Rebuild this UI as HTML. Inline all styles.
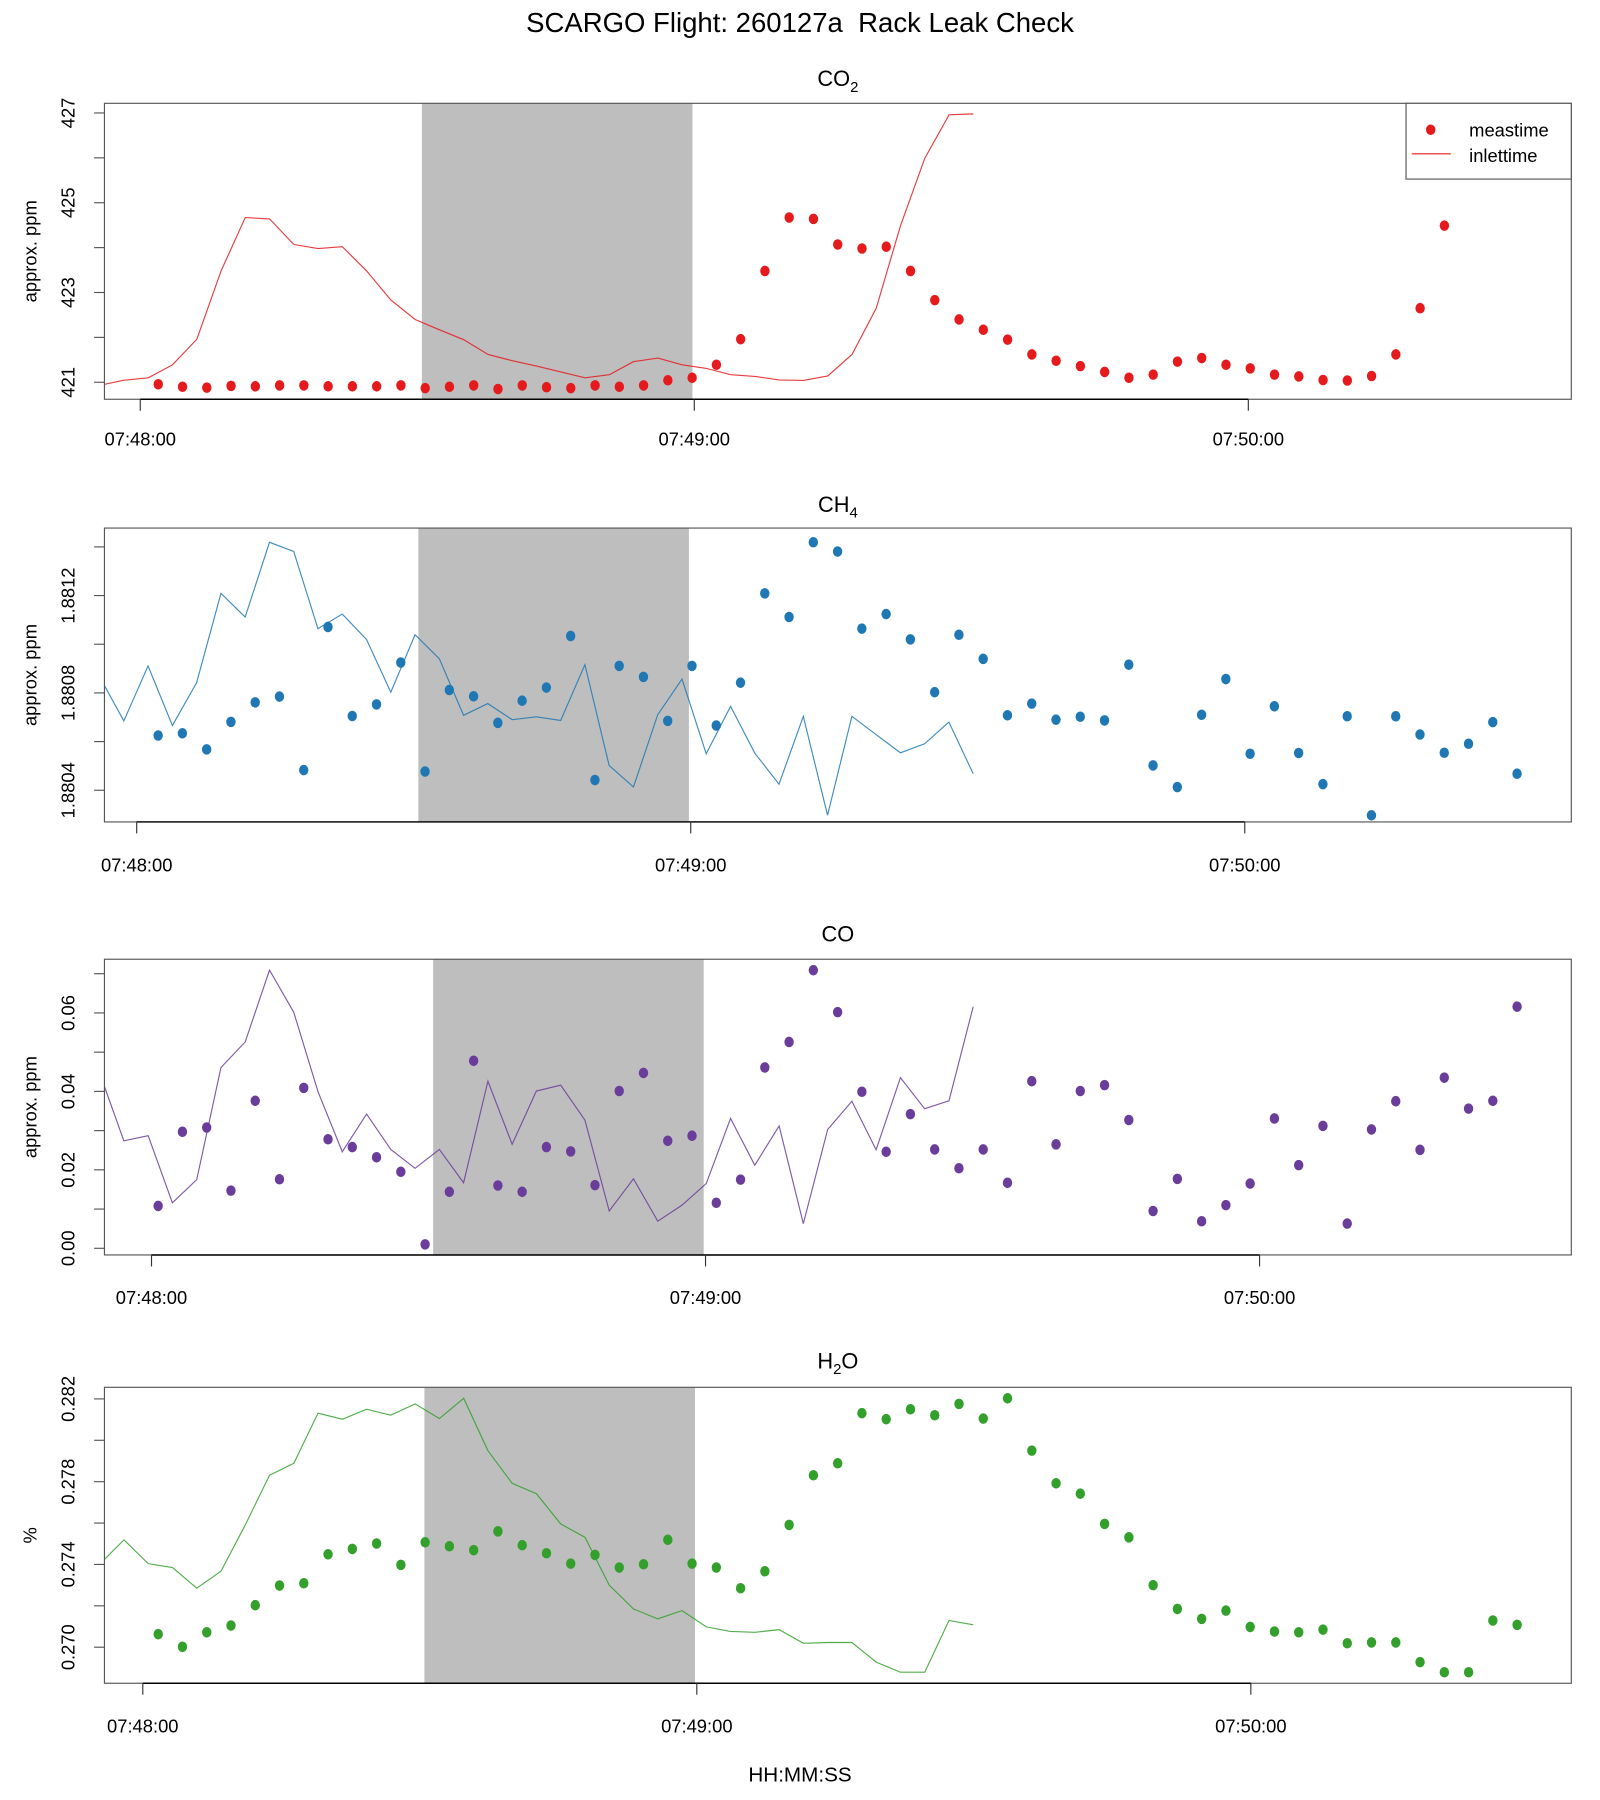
<!DOCTYPE html>
<html><head><meta charset="utf-8"><style>
html,body{margin:0;padding:0;background:#fff}
svg{display:block}
text{font-family:"Liberation Sans",Arial,sans-serif;fill:#000}
</style></head><body>
<svg id="chart" width="1600" height="1800" viewBox="0 0 1394 1568" preserveAspectRatio="none" xmlns="http://www.w3.org/2000/svg">
<text x="697" y="28" font-size="24" text-anchor="middle">SCARGO Flight: 260127a&#160; Rack Leak Check</text>
<text x="697" y="1552" font-size="18" text-anchor="middle">HH:MM:SS</text>
</svg>
<script>
// ---- data ----
const tickLabels = ["07:48:00", "07:49:00", "07:50:00"];
const tickSeconds = [0, 60, 120];
const sampleStep = 2.628;      // seconds between measurements
const inletLag = 58.9;         // inlettime = meastime - lag
const shadeStart = 30.5, shadeEnd = 59.8;

const co2Values = [420.955,420.90,420.88,420.92,420.91,420.93,420.93,420.91,420.91,420.91,420.93,420.87,420.90,420.93,420.85,420.93,420.89,420.87,420.93,420.90,420.93,421.045,421.10,421.39,421.96,423.48,424.67,424.64,424.07,423.98,424.02,423.48,422.83,422.40,422.17,421.95,421.62,421.48,421.36,421.23,421.10,421.17,421.46,421.54,421.39,421.31,421.17,421.13,421.05,421.04,421.14,421.62,422.65,424.49,425.99,426.96,426.98];
const ch4Values = [1.880625,1.880634,1.880568,1.880681,1.880761,1.880785,1.880483,1.881071,1.880705,1.880753,1.880925,1.880477,1.880812,1.880786,1.880677,1.880768,1.880822,1.881034,1.880442,1.880911,1.880866,1.880685,1.880911,1.880666,1.880842,1.881209,1.881112,1.881419,1.881381,1.881064,1.881124,1.88102,1.880803,1.881039,1.88094,1.880708,1.880756,1.88069,1.880702,1.880687,1.880916,1.880502,1.880413,1.88071,1.880857,1.88055,1.880745,1.880553,1.880425,1.880704,1.880297,1.880704,1.880629,1.880554,1.880591,1.88068,1.880468];
const coValues = [0.0108,0.0297,0.0308,0.0147,0.0376,0.0176,0.0409,0.0278,0.0258,0.0232,0.0195,0.0010,0.0144,0.0478,0.0160,0.0144,0.0258,0.0247,0.0161,0.0401,0.0447,0.0274,0.0287,0.0116,0.0175,0.0461,0.0526,0.0709,0.0602,0.0399,0.0246,0.0342,0.0252,0.0204,0.0252,0.0167,0.0426,0.0265,0.0401,0.0416,0.0327,0.0095,0.0177,0.0069,0.0110,0.0165,0.0331,0.0212,0.0312,0.0063,0.0303,0.0375,0.0251,0.0435,0.0356,0.0376,0.0616];
const h2oValues = [0.27063,0.27002,0.27072,0.27105,0.27203,0.27298,0.27309,0.27449,0.27475,0.27501,0.27398,0.27507,0.27488,0.27469,0.2756,0.27493,0.27454,0.27404,0.27446,0.27385,0.27401,0.27519,0.27404,0.27385,0.27285,0.27367,0.27591,0.27831,0.27889,0.28131,0.28102,0.2815,0.28121,0.28176,0.28105,0.28203,0.2795,0.27792,0.27742,0.27596,0.27531,0.273,0.27185,0.27137,0.27177,0.27098,0.27076,0.27072,0.27085,0.27019,0.27023,0.27023,0.26928,0.26879,0.26879,0.27129,0.27108];

const co2Ticks = [421,422,423,424,425,426,427];
const co2Labels = ["421","423","425","427"];
const ch4Ticks = [1.8804,1.8806,1.8808,1.8810,1.8812,1.8814];
const ch4Labels = ["1.8804","1.8808","1.8812"];
const coTicks = [0,0.01,0.02,0.03,0.04,0.05,0.06,0.07];
const coLabels = ["0.00","0.02","0.04","0.06"];
const h2oTicks = [0.270,0.272,0.274,0.276,0.278,0.280,0.282];
const h2oLabels = ["0.270","0.274","0.278","0.282"];

// ---- layout ----
const NS = "http://www.w3.org/2000/svg";
const svg = document.getElementById('chart');
const PX_PER_S = 8.045, LEFT = 91, RIGHT = 1369;
function mk(tag, attrs, parent) {
  const e = document.createElementNS(NS, tag);
  for (const k in attrs) e.setAttribute(k, attrs[k]);
  (parent || svg).appendChild(e);
  return e;
}
const panels = [
  {key:'co2', title:'CO', sub:'2', values:co2Values, ticks:co2Ticks, labels:co2Labels, color:'#e41a1c', ylab:'approx. ppm',
   top:90, bottom:347.8, vRef:421, yRef:333, vPerPx:(427-421)/(333-98.4), x0:122.2, t0:1.95, titleY:75, tickY:388, legend:true},
  {key:'ch4', title:'CH', sub:'4', values:ch4Values, ticks:ch4Ticks, labels:ch4Labels, color:'#1f78b4', ylab:'approx. ppm',
   top:460, bottom:716, vRef:1.8804, yRef:688.4, vPerPx:0.0001/21.2, x0:119.1, t0:2.32, titleY:446, tickY:759},
  {key:'co', title:'CO', sub:'', values:coValues, ticks:coTicks, labels:coLabels, color:'#6a3d9a', ylab:'approx. ppm',
   top:835.6, bottom:1093.2, vRef:0, yRef:1087.4, vPerPx:0.01/34.17, x0:132, t0:0.72, titleY:820, tickY:1136},
  {key:'h2o', title:'H', sub:'2', post:'O', values:h2oValues, ticks:h2oTicks, labels:h2oLabels, color:'#33a02c', ylab:'%',
   top:1208.5, bottom:1466.3, vRef:0.270, yRef:1434.9, vPerPx:0.002/36.05, x0:124.4, t0:1.67, titleY:1192, tickY:1509}
];

panels.forEach(function(p){
  const g = mk('g', {});
  
  
  const xs = t => p.x0 + t * PX_PER_S;
  const ys = v => p.yRef - (v - p.vRef) / p.vPerPx;
  const clipId = 'clip-' + p.key;
  const cp = mk('clipPath', {id: clipId}, g);
  mk('rect', {x: LEFT, y: p.top, width: RIGHT - LEFT, height: p.bottom - p.top}, cp);

  const sh = mk('rect', {x: xs(shadeStart), y: p.top, width: xs(shadeEnd) - xs(shadeStart), height: p.bottom - p.top, fill: '#bebebe'}, g);
  
  

  const pts = p.values.map((v, i) => xs(p.t0 + i * sampleStep - inletLag).toFixed(1) + ',' + ys(v).toFixed(1)).join(' ');
  const ln = mk('polyline', {points: pts, fill: 'none', stroke: p.color, 'stroke-width': 1, 'stroke-opacity': 0.85, 'clip-path': 'url(#' + clipId + ')'}, g);
  
  

  p.values.forEach(function(v, i){
    const c = mk('ellipse', {cx: xs(p.t0 + i * sampleStep), cy: ys(v), rx: 4.1, ry: 4.6, fill: p.color, 'clip-path': 'url(#' + clipId + ')'}, g);
    
    
  });

  const bx = mk('rect', {x: LEFT, y: p.top, width: RIGHT - LEFT, height: p.bottom - p.top, fill: 'none', stroke: '#555', 'stroke-width': 1}, g);
  
  

  const xa = mk('g', {}, g);
  
  
  mk('line', {x1: xs(tickSeconds[0]), x2: xs(tickSeconds[tickSeconds.length-1]), y1: p.bottom, y2: p.bottom, stroke: '#000', 'stroke-width': 1.3}, xa);
  tickSeconds.forEach(function(s, i){
    mk('line', {x1: xs(s), x2: xs(s), y1: p.bottom, y2: p.bottom + 10, stroke: '#333', 'stroke-width': 1}, xa);
    const t = mk('text', {x: xs(s), y: p.tickY, 'font-size': 16, 'text-anchor': 'middle'}, xa);
    t.textContent = tickLabels[i];
    
    
  });

  const ya = mk('g', {}, g);
  
  
  p.ticks.forEach(function(v){
    mk('line', {x1: LEFT - 9, x2: LEFT, y1: ys(v), y2: ys(v), stroke: '#555', 'stroke-width': 1}, ya);
  });
  p.labels.forEach(function(lbl){
    const yy = ys(parseFloat(lbl));
    const t = mk('text', {x: 0, y: 0, 'font-size': 16, 'text-anchor': 'middle', transform: 'translate(65,' + yy.toFixed(1) + ') rotate(-90)'}, ya);
    t.textContent = lbl;
    
    
  });
  const yl = mk('text', {x: 0, y: 0, 'font-size': 16, 'text-anchor': 'middle', transform: 'translate(32,' + ((p.top + p.bottom) / 2).toFixed(1) + ') rotate(-90)'}, ya);
  yl.textContent = p.ylab;
  
  

  const tt = mk('text', {x: 730, y: p.titleY, 'font-size': 19, 'text-anchor': 'middle'}, g);
  
  
  const s1 = mk('tspan', {}, tt); s1.textContent = p.title;
  if (p.sub) { const s2 = mk('tspan', {'font-size': 13, dy: 5}, tt); s2.textContent = p.sub; }
  if (p.post) { const s3 = mk('tspan', {dy: -5}, tt); s3.textContent = p.post; }

  if (p.legend) {
    const lg = mk('g', {}, g);
    
    
    mk('rect', {x: 1225, y: 90, width: 144, height: 66, fill: '#fff', stroke: '#555', 'stroke-width': 1}, lg);
    const d = mk('ellipse', {cx: 1246.5, cy: 113, rx: 4.1, ry: 4.6, fill: p.color}, lg);
    
    
    const l = mk('line', {x1: 1230, x2: 1264, y1: 134, y2: 134, stroke: p.color, 'stroke-width': 1}, lg);
    
    
    const t1 = mk('text', {x: 1280, y: 119, 'font-size': 16}, lg); t1.textContent = 'meastime';
    
    
    const t2 = mk('text', {x: 1280, y: 141, 'font-size': 16}, lg); t2.textContent = 'inlettime';
    
    
  }
});
</script>
</body></html>
